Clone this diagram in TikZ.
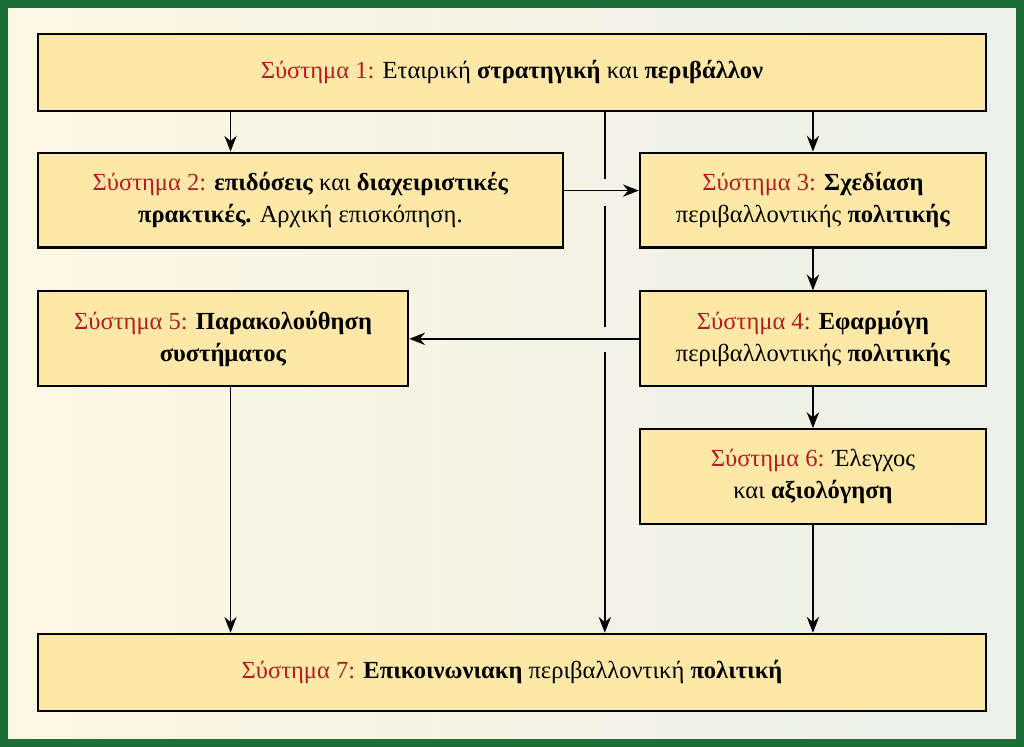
\documentclass[tikz,border=0pt]{standalone}
\usepackage{fontspec}
\setmainfont{Liberation Serif}
\usetikzlibrary{arrows.meta, calc}
\definecolor{frame}{RGB}{30,110,55}
\definecolor{boxfill}{RGB}{253,232,168}
\definecolor{sysred}{RGB}{180,30,35}
\definecolor{bgleft}{RGB}{251,247,226}
\definecolor{bgright}{RGB}{236,240,232}
\newcommand{\sys}[1]{\textcolor{sysred}{Σύστημα #1:}}
\tikzset{
  block/.style={rectangle, draw=black, line width=1.2pt, fill=boxfill,
                align=center, font=\fontsize{14}{18}\selectfont,
                inner sep=0pt},
  arrow/.style={-{Stealth[length=9pt,width=7pt]}, line width=1pt},
  link/.style={line width=1pt},
}
\begin{document}
\begin{tikzpicture}[x=0.02cm, y=-0.02cm]
  % background and frame
  \shade[left color=bgleft, right color=bgright] (0,0) rectangle (1024,746);
  \draw[frame, line width=4.5pt] (3,3) rectangle (1021,743);

  \node[block, minimum width=19cm, minimum height=1.54cm] (s1) at (512,71.5)
    {\sys{1} Εταιρική \textbf{στρατηγική} και \textbf{περιβάλλον}};
  \node[block, minimum width=10.52cm, minimum height=1.9cm] (s2) at (300,199.5)
    {\sys{2} \textbf{επιδόσεις} και \textbf{διαχειριστικές}\\\textbf{πρακτικές.} Αρχική επισκόπηση.};
  \node[block, minimum width=6.94cm, minimum height=1.9cm] (s3) at (813.5,199.5)
    {\sys{3} \textbf{Σχεδίαση}\\περιβαλλοντικής \textbf{πολιτικής}};
  \node[block, minimum width=6.94cm, minimum height=1.9cm] (s4) at (813.5,338.5)
    {\sys{4} \textbf{Εφαρμόγη}\\περιβαλλοντικής \textbf{πολιτικής}};
  \node[block, minimum width=7.42cm, minimum height=1.9cm] (s5) at (222.5,338.5)
    {\sys{5} \textbf{Παρακολούθηση}\\\textbf{συστήματος}};
  \node[block, minimum width=6.94cm, minimum height=1.9cm] (s6) at (813.5,476.5)
    {\sys{6} Έλεγχος\\και \textbf{αξιολόγηση}};
  \node[block, minimum width=19cm, minimum height=1.54cm] (s7) at (512,672.5)
    {\sys{7} \textbf{Επικοινωνιακη} περιβαλλοντική \textbf{πολιτική}};

  % helper points
  \coordinate (left) at (230,0);
  \coordinate (mid) at (605,0);
  \coordinate (row) at (0,190);

  % connectors
  \draw[arrow] (s1.south -| left) -- (s2.north -| left);
  \draw[arrow] (s1.south -| s3) -- (s3);
  \draw[arrow] (s2.east |- row) -- (s3.west |- row);
  \draw[arrow] (s3) -- (s4);
  \draw[arrow] (s4) -- (s6);
  \draw[arrow] (s4) -- (s5);
  \draw[arrow] (s5.south -| left) -- (s7.north -| left);
  \draw[arrow] (s6) -- (s7.north -| s6);

  % centre line with gaps at crossings
  \draw[link] (s1.south -| mid) -- (605,178);
  \draw[link] (605,205) -- (605,327);
  \draw[arrow] (605,352) -- (s7.north -| mid);
\end{tikzpicture}
\end{document}
